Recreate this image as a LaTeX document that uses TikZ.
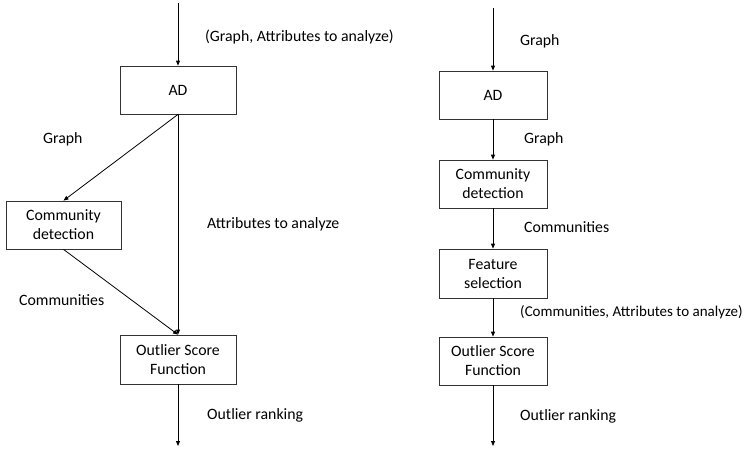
\documentclass[tikz,border=0pt]{standalone}
\usepackage{fontspec}
\setmainfont{Carlito}
\usetikzlibrary{arrows.meta}
\begin{document}
\begin{tikzpicture}[x=1pt,y=-1pt,
  box/.style={draw=black!80,line width=0.8pt,align=center,inner sep=0pt,font=\fontsize{15.8}{19}\selectfont},
  lbl/.style={anchor=west,inner sep=0pt,font=\fontsize{15.8}{19}\selectfont},
  arr/.style={line width=0.8pt,-{Triangle[length=5pt,width=4pt]}},
  ln/.style={line width=0.8pt}]
\useasboundingbox (0,0) rectangle (747,448);
% left diagram
\node[box,minimum width=116pt,minimum height=48pt] (lad) at (178,90) {AD};
\node[box,minimum width=115pt,minimum height=48pt] (lcd) at (63.5,225) {Community\\detection};
\node[box,minimum width=116pt,minimum height=49pt] (losf) at (178,359.5) {Outlier Score\\Function};
\coordinate (ltop) at (178,3);
\coordinate (lbot) at (178,446);
\draw[arr] (ltop) -- (lad.north);
\draw[arr] (lad.south) -- (lcd.north);
\draw[arr] (lad.south) -- (losf.north);
\draw[arr] (lcd.south) -- (losf.north);
\draw[arr] (losf.south) -- (lbot);
\node[lbl] (l1) at (205,37) {(Graph, Attributes to analyze)};
\node[lbl] (l2) at (43,139) {Graph};
\node[lbl] (l3) at (207,224) {Attributes to analyze};
\node[lbl] (l4) at (19,300) {Communities};
\node[lbl] (l5) at (207,415) {Outlier ranking};
% right diagram
\node[box,minimum width=108pt,minimum height=48pt] (rad) at (493,95) {AD};
\node[box,minimum width=108pt,minimum height=48pt] (rcd) at (493,184) {Community\\detection};
\node[box,minimum width=108pt,minimum height=49pt] (rfs) at (493,273.5) {Feature\\selection};
\node[box,minimum width=108pt,minimum height=48pt] (rosf) at (493,361) {Outlier Score\\Function};
\coordinate (rtop) at (493,8);
\coordinate (rbot) at (493,446);
\draw[arr] (rtop) -- (rad.north);
\draw[arr] (rad.south) -- (rcd.north);
\draw[arr] (rcd.south) -- (rfs.north);
\draw[arr] (rfs.south) -- (rosf.north);
\draw[arr] (rosf.south) -- (rbot);
\node[lbl] (r1) at (520,41) {Graph};
\node[lbl] (r2) at (524,139) {Graph};
\node[lbl] (r3) at (524,227) {Communities};
\node[lbl,font=\fontsize{15}{18}\selectfont] (r4) at (520,312) {(Communities, Attributes to analyze)};
\node[lbl] (r5) at (520,416) {Outlier ranking};
\end{tikzpicture}
\end{document}
